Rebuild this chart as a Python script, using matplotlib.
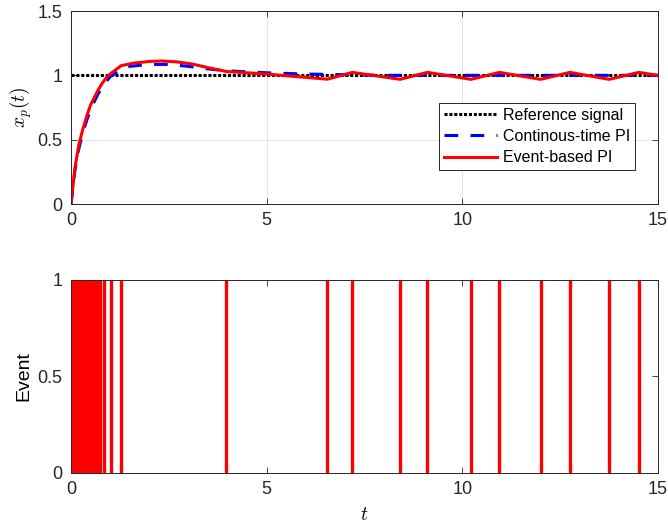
import matplotlib

matplotlib.use("Agg")
import matplotlib.pyplot as plt

plt.rcParams["font.family"] = ["Liberation Sans", "DejaVu Sans"]
plt.rcParams["mathtext.fontset"] = "cm"

# reference signal
ref_t = [0, 15]
ref_y = [1, 1]

# continuous-time PI response
ct_t = [0, 0.1, 0.2, 0.3, 0.4, 0.5, 0.6, 0.7, 0.8, 0.9, 1.0, 1.2, 1.5, 2.0,
        2.5, 3.0, 3.5, 4.0, 5.0, 6.0, 7.0, 8.0, 15.0]
ct_y = [0, 0.26, 0.43, 0.55, 0.65, 0.73, 0.80, 0.86, 0.91, 0.95, 0.99, 1.03,
        1.07, 1.085, 1.085, 1.07, 1.05, 1.035, 1.02, 1.01, 1.005, 1.0, 1.0]

# event-based PI response
eb_t = [0, 0.1, 0.2, 0.3, 0.4, 0.5, 0.6, 0.7, 0.8, 0.9, 1.0, 1.28, 1.6, 2.0,
        2.3, 2.7, 3.1, 3.5, 3.97, 5.0, 6.55, 7.19, 8.41, 9.11, 10.22, 10.95,
        12.0, 12.75, 13.75, 14.51, 15.0]
eb_y = [0, 0.28, 0.46, 0.58, 0.68, 0.77, 0.83, 0.89, 0.94, 0.98, 1.01, 1.075,
        1.095, 1.108, 1.112, 1.105, 1.088, 1.06, 1.03, 1.01, 0.97, 1.023,
        0.969, 1.023, 0.969, 1.023, 0.969, 1.023, 0.969, 1.023, 1.0]

# event instants
events = [0.0, 0.04, 0.08, 0.12, 0.16, 0.20, 0.24, 0.28, 0.32, 0.36, 0.40,
          0.44, 0.48, 0.52, 0.56, 0.60, 0.64, 0.68, 0.72, 0.75, 0.85, 1.02,
          1.28, 3.97, 6.55, 7.19, 8.41, 9.11, 10.22, 10.95, 12.0, 12.75,
          13.75, 14.51]

xticks = [0, 5, 10, 15]

fig = plt.figure(figsize=(6.68, 5.27), dpi=100)
ax1 = fig.add_axes([0.1063, 0.6129, 0.8787, 0.3662])
ax2 = fig.add_axes([0.1063, 0.1025, 0.8787, 0.3662])

ax1.plot(ref_t, ref_y, color="black", lw=2.2, ls=(0, (1, 0.6)), label="Reference signal")
ax1.plot(ct_t, ct_y, color="blue", lw=2.2, ls=(0, (4.5, 4)), label="Continous-time PI")
ax1.plot(eb_t, eb_y, color="red", lw=2.2, label="Event-based PI")
ax1.set_xlim(0, 15)
ax1.set_ylim(0, 1.5)
ax1.set_yticks([0, 0.5, 1, 1.5])
ax1.set_yticklabels(["0", "0.5", "1", "1.5"])
ax1.grid(True, color="#e3e3e3", lw=0.7)
ax1.set_axisbelow(True)
ax1.set_ylabel(r"$x_p(t)$", fontsize=14, labelpad=3)
leg = ax1.legend(loc="center", bbox_to_anchor=(0.794, 0.35), fontsize=11.5,
                 fancybox=False, edgecolor="#262626", framealpha=1,
                 handlelength=3.3, handletextpad=0.4, labelspacing=0.4,
                 borderpad=0.3, borderaxespad=0)
leg.get_frame().set_linewidth(0.7)

ax2.vlines(events, 0, 1, color="red", lw=2.4)
ax2.set_xlim(0, 15)
ax2.set_ylim(0, 1)
ax2.set_yticks([0, 0.5, 1])
ax2.set_yticklabels(["0", "0.5", "1"])
ax2.set_ylabel("Event", fontsize=14, labelpad=4)
ax2.set_xlabel(r"$t$", fontsize=14, labelpad=6)

for ax in (ax1, ax2):
    ax.set_xticks(xticks)
    ax.set_xticklabels([str(v) for v in xticks])
    ax.tick_params(direction="in", top=True, right=True, length=4, width=0.6,
                   labelsize=13, colors="#262626", pad=6)
    for s in ax.spines.values():
        s.set_color("#262626")
        s.set_linewidth(0.7)

fig.savefig("out.png", dpi=100)
